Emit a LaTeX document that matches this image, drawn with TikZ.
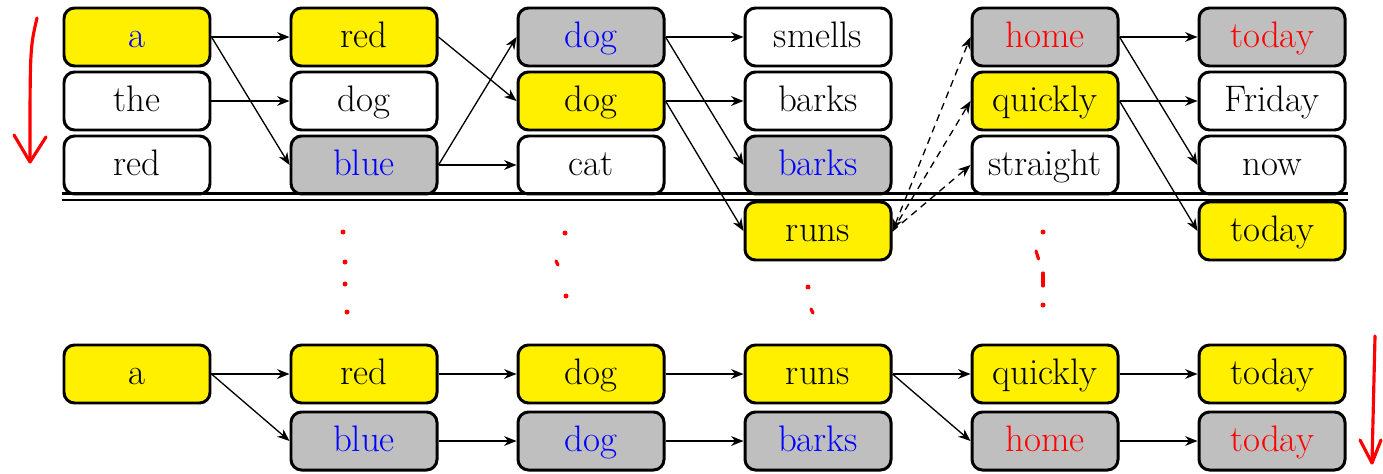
\documentclass[tikz,border=0pt]{standalone}
\usepackage{tikz}
\usetikzlibrary{arrows.meta, positioning, calc}

\definecolor{hlyellow}{RGB}{255,240,0}

\begin{document}
\begin{tikzpicture}[
    font=\fontsize{21}{23}\selectfont,
    >={Stealth[length=7pt,width=5.5pt,inset=2.2pt]},
    word/.style={
        draw,
        line width=1.7pt,
        rounded corners=6pt,
        minimum width=2.92cm,
        minimum height=1.16cm,
        text height=15.5pt,
        text depth=3.8pt,
        inner sep=0pt
    },
    hit/.style={word, fill=hlyellow},
    miss/.style={word, fill=black!25},
    plain/.style={word, fill=white},
    arr/.style={->, line width=0.75pt},
    guess/.style={arr, dash pattern=on 4pt off 3pt},
    pen/.style={red, line width=1.8pt, line cap=round, line join=round}
]
\useasboundingbox (0,0) rectangle (27.66,9.46);

% Top lattice
\node[hit]   (a1)  at (2.74,8.72)  {\textcolor{blue}{a}};
\node[plain] (the1) at (2.74,7.44) {the};
\node[plain] (red1) at (2.74,6.16) {red};

\node[hit]   (red2)  at (7.28,8.72) {red};
\node[plain] (dog2)  at (7.28,7.44) {dog};
\node[miss]  (blue2) at (7.28,6.16) {\textcolor{blue}{blue}};

\node[miss]  (dogb3) at (11.82,8.72) {\textcolor{blue}{dog}};
\node[hit]   (dog3)  at (11.82,7.44) {dog};
\node[plain] (cat3)  at (11.82,6.16) {cat};

\node[plain] (smells4) at (16.36,8.72) {smells};
\node[plain] (barks4)  at (16.36,7.44) {barks};
\node[miss]  (barksb4) at (16.36,6.16) {\textcolor{blue}{barks}};
\node[hit]   (runs4)   at (16.36,4.84) {runs};

\node[miss]  (home5)     at (20.90,8.72) {\textcolor{red}{home}};
\node[hit]   (quickly5)  at (20.90,7.44) {quickly};
\node[plain] (straight5) at (20.90,6.16) {straight};

\node[miss]  (todayr6) at (25.44,8.72) {\textcolor{red}{today}};
\node[plain] (friday6) at (25.44,7.44) {Friday};
\node[plain] (now6)    at (25.44,6.16) {now};
\node[hit]   (today6)  at (25.44,4.84) {today};

\draw[arr] (a1.east) -- (red2.west);
\draw[arr] (a1.east) -- (blue2.west);
\draw[arr] (the1.east) -- (dog2.west);

\draw[arr] (red2.east) -- (dog3.west);
\draw[arr] (blue2.east) -- (dogb3.west);
\draw[arr] (blue2.east) -- (cat3.west);

\draw[arr] (dogb3.east) -- (smells4.west);
\draw[arr] (dogb3.east) -- (barksb4.west);
\draw[arr] (dog3.east) -- (barks4.west);
\draw[arr] (dog3.east) -- (runs4.west);

\draw[guess, <->] (runs4.east) -- (home5.west);
\draw[guess] (runs4.east) -- (quickly5.west);
\draw[guess] (runs4.east) -- (straight5.west);

\draw[arr] (home5.east) -- (todayr6.west);
\draw[arr] (home5.east) -- (now6.west);
\draw[arr] (quickly5.east) -- (friday6.west);
\draw[arr] (quickly5.east) -- (today6.west);

% Double rule
\draw[line width=1.7pt] (1.24,5.59) -- (26.96,5.59);
\draw[line width=1.4pt] (1.24,5.46) -- (26.96,5.46);

% Bottom paths
\node[hit] (a7)       at (2.74,1.98)  {a};
\node[hit] (red7)     at (7.28,1.98)  {red};
\node[hit] (dog7)     at (11.82,1.98) {dog};
\node[hit] (runs7)    at (16.36,1.98) {runs};
\node[hit] (quickly7) at (20.90,1.98) {quickly};
\node[hit] (today7)   at (25.44,1.98) {today};

\node[miss] (blue8)  at (7.28,0.64)  {\textcolor{blue}{blue}};
\node[miss] (dog8)   at (11.82,0.64) {\textcolor{blue}{dog}};
\node[miss] (barks8) at (16.36,0.64) {\textcolor{blue}{barks}};
\node[miss] (home8)  at (20.90,0.64) {\textcolor{red}{home}};
\node[miss] (today8) at (25.44,0.64) {\textcolor{red}{today}};

\draw[arr] (a7.east) -- (red7.west);
\draw[arr] (a7.east) -- (blue8.west);
\draw[arr] (red7.east) -- (dog7.west);
\draw[arr] (blue8.east) -- (dog8.west);
\draw[arr] (dog7.east) -- (runs7.west);
\draw[arr] (dog8.east) -- (barks8.west);
\draw[arr] (runs7.east) -- (quickly7.west);
\draw[arr] (runs7.east) -- (home8.west);
\draw[arr] (quickly7.east) -- (today7.west);
\draw[arr] (home8.east) -- (today8.west);

% Hand-drawn marks
\draw[pen] (0.74,9.1) .. controls (0.6,8.5) .. (0.6,6.26);
\draw[pen] (0.28,6.76) -- (0.6,6.22) -- (0.92,6.72);
\draw[pen] (27.5,2.74) -- (27.44,0.22);
\draw[pen] (27.2,0.66) -- (27.44,0.2) -- (27.62,0.66);

\foreach \p in {(6.86,4.82),(6.9,4.22),(6.9,3.78),(6.94,3.22),
                (11.3,4.8),(11.32,3.54),(16.16,3.72),
                (20.86,4.82),(20.86,3.36)}
    \fill[red] \p circle (0.05);
\draw[pen] (11.12,4.24) -- (11.16,4.16);
\draw[pen] (16.22,3.28) -- (16.26,3.2);
\draw[pen] (20.72,4.44) -- (20.77,4.28);
\draw[pen] (20.86,4.0) -- (20.86,3.74);

\end{tikzpicture}
\end{document}
